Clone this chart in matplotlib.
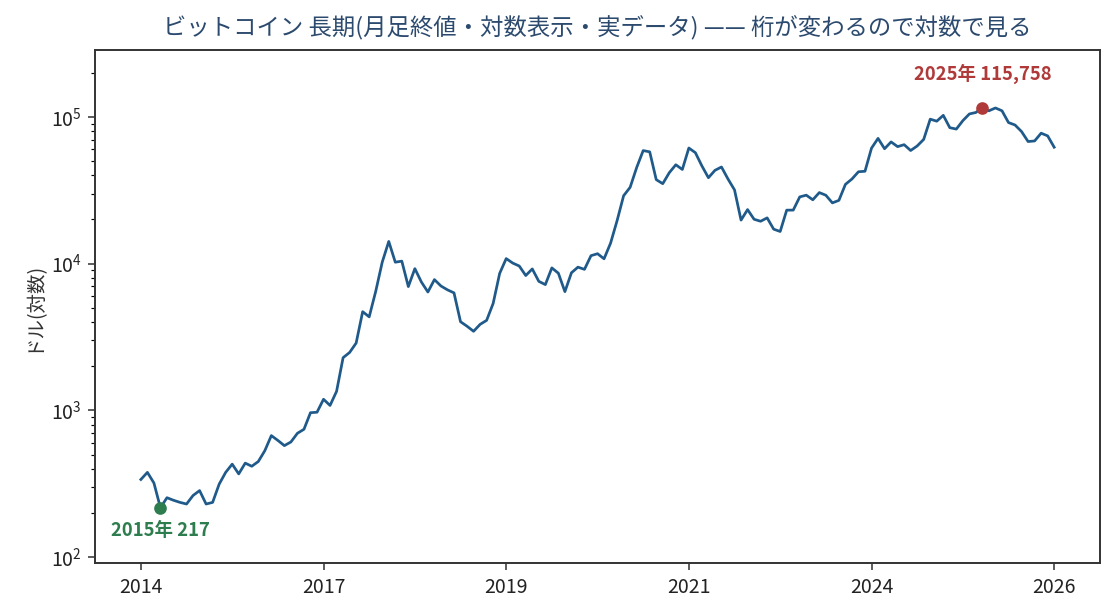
"""
ビットコイン長期チャート (月足終値, 対数表示)
"""

import numpy as np
import pandas as pd
import matplotlib
matplotlib.use("Agg")
import matplotlib.pyplot as plt

plt.rcParams['font.family'] = ['Noto Sans CJK JP', 'DejaVu Sans']

# monthly closes from 2014-10
start_month = '2014-10'
closes = [
    338, 378, 320,
    217, 254, 244, 236, 230, 263, 284, 230, 236, 314, 378, 430,
    369, 437, 416, 448, 531, 673, 624, 575, 609, 698, 743, 964,
    971, 1190, 1080, 1348, 2286, 2481, 2875, 4703, 4338, 6468, 10233, 14157,
    10222, 10397, 6973, 9240, 7494, 6404, 7780, 7037, 6625, 6318, 4017, 3743,
    3457, 3854, 4105, 5351, 8574, 10817, 10086, 9631, 8294, 9199, 7569, 7194,
    9350, 8600, 6438, 8658, 9461, 9138, 11323, 11681, 10784, 13781, 19625, 29002,
    33114, 45137, 58918, 57750, 37332, 35041, 41626, 47166, 43791, 61318, 57005, 46306,
    38483, 43194, 45538, 37714, 31792, 19785, 23337, 20050, 19432, 20495, 17168, 16548,
    23139, 23147, 28478, 29268, 27219, 30477, 29230, 25931, 26968, 34667, 37713, 42265,
    42582, 61198, 71333, 60637, 67491, 62678, 64620, 58969, 63329, 70215, 96449, 93429,
    102405, 84374, 82548, 94208, 104638, 107135, 115758, 110000, 115000, 110000, 91400, 88000,
    79400, 67900, 68500, 77400, 74200, 62100,
]

dates = pd.date_range(start_month, periods=len(closes), freq='MS')
x = np.arange(len(closes))
y = np.array(closes, dtype=float)

tick_idx = [0, 28, 56, 84, 112, 140]
tick_labels = [str(dates[i].year) for i in tick_idx]

line_color = '#1f5a8a'
low_color = '#2e7d4f'
high_color = '#b03a3a'

fig = plt.figure(figsize=(8, 4.4), dpi=140)
ax = fig.add_axes([0.085, 0.086, 0.897, 0.833])

ax.plot(x, y, color=line_color, linewidth=1.4)
ax.set_yscale('log')
ax.set_ylim(y.min() * 0.42, y.max() * 2.47)

i_low = int(np.argmin(y))
i_high = int(np.argmax(y))
ax.plot(x[i_low], y[i_low], 'o', color=low_color, markersize=5.5, zorder=5)
ax.plot(x[i_high], y[i_high], 'o', color=high_color, markersize=5.5, zorder=5)
ax.annotate(f"{dates[i_low].year}年 {int(y[i_low]):,}", (x[i_low], y[i_low]),
            xytext=(0, -7), textcoords='offset points', ha='center', va='top',
            fontsize=9.5, fontweight='bold', color=low_color)
ax.annotate(f"{dates[i_high].year}年 {int(y[i_high]):,}", (x[i_high], y[i_high]),
            xytext=(0, 12), textcoords='offset points', ha='center', va='bottom',
            fontsize=9.5, fontweight='bold', color=high_color)

ax.set_xticks(tick_idx)
ax.set_xticklabels(tick_labels)
ax.tick_params(axis='both', labelsize=10, colors='#333333', labelcolor='#222222')
ax.set_ylabel('ドル(対数)', fontsize=10, color='#333333')
for sp in ax.spines.values():
    sp.set_color('#333333')
    sp.set_linewidth(1.0)

ax.set_title("ビットコイン 長期(月足終値・対数表示・実データ) —— 桁が変わるので対数で見る",
             fontsize=12, color='#2c4a6e', pad=8)

fig.savefig('out.png', dpi=140)
plt.close(fig)
